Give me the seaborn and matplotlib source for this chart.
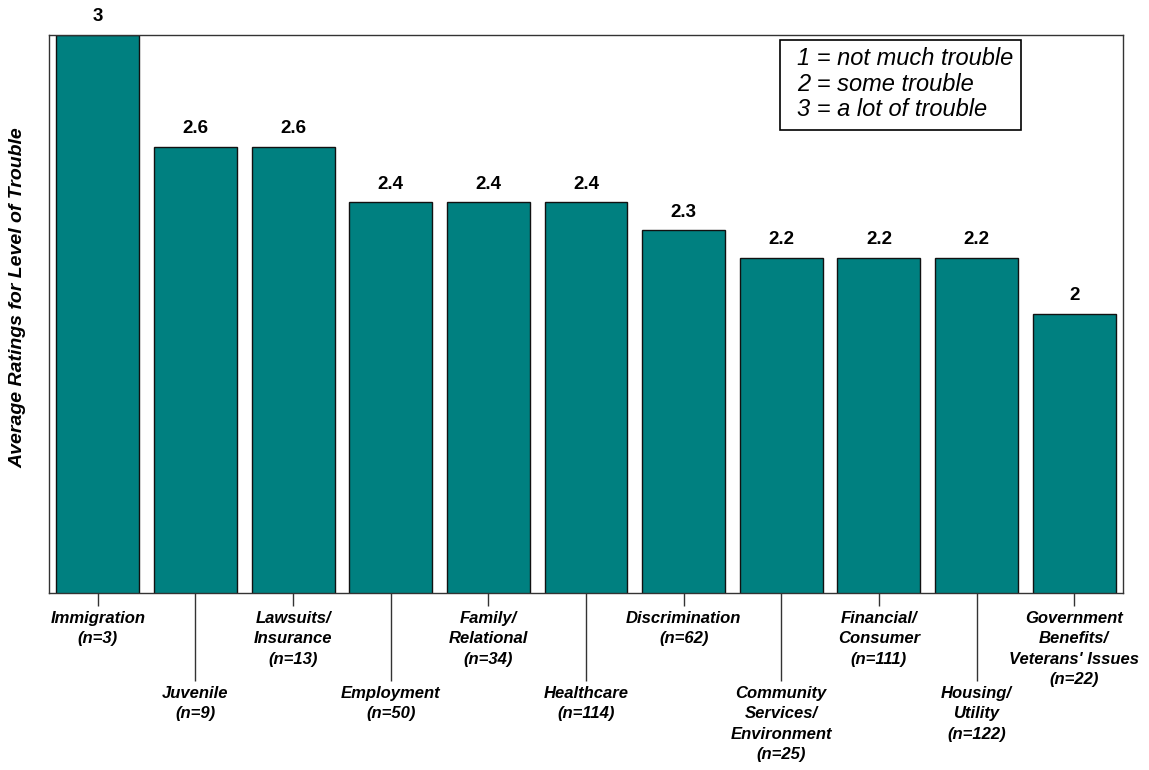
import matplotlib
matplotlib.use("Agg")
import matplotlib.pyplot as plt
from matplotlib.patches import Rectangle
import seaborn as sns
import pandas as pd

categories = ["Immigration\n(n=3)", "Juvenile\n(n=9)", "Lawsuits/\nInsurance\n(n=13)",
              "Employment\n(n=50)", "Family/\nRelational\n(n=34)", "Healthcare\n(n=114)",
              "Discrimination\n(n=62)", "Community\nServices/\nEnvironment\n(n=25)",
              "Financial/\nConsumer\n(n=111)", "Housing/\nUtility\n(n=122)",
              "Government\nBenefits/\nVeterans' Issues\n(n=22)"]
ratings = [3, 2.6, 2.6, 2.4, 2.4, 2.4, 2.3, 2.2, 2.2, 2.2, 2]
legend_lines = ["1 = not much trouble", "2 = some trouble", "3 = a lot of trouble"]
y_label = "Average Ratings for Level of Trouble"

sns.set_style("white")
plt.rcParams['font.family'] = ['Liberation Sans', 'DejaVu Sans']
plt.rcParams['text.color'] = 'black'
plt.rcParams['axes.labelcolor'] = 'black'
plt.rcParams['xtick.color'] = 'black'

df = pd.DataFrame({"cat": categories, "rating": ratings})

fig = plt.figure(figsize=(11.49, 7.70), dpi=100)
ax = fig.add_axes([49/1149, 1-593/770, 1074/1149, 558/770])

sns.barplot(data=df, x="cat", y="rating", color="#008080", saturation=1,
            edgecolor="#111111", linewidth=1, width=0.85, ax=ax)
ax.set_ylim(1, 3)
ax.set_xlim(-0.5, len(categories) - 0.5)
ax.set_yticks([])
ax.set_xlabel("")
ax.set_ylabel(y_label, fontsize=14, fontweight="bold", fontstyle="italic")
ax.yaxis.set_label_coords(-0.0215, 0.53)

for c in ax.containers:
    ax.bar_label(c, labels=[f"{v:g}" for v in ratings], padding=7,
                 fontsize=13.5, fontweight="bold", color="black", clip_on=False)

even = list(range(0, len(categories), 2))
odd = list(range(1, len(categories), 2))
ax.set_xticks(even, labels=[categories[i] for i in even])
ax.set_xticks(odd, labels=[categories[i] for i in odd], minor=True)
ax.tick_params(axis="x", which="major", length=9, width=1, color="#333333",
               direction="out", pad=4, bottom=True)
ax.tick_params(axis="x", which="minor", length=63, width=1, color="#333333",
               direction="out", pad=4, bottom=True)
for lab in ax.get_xticklabels(minor=False) + ax.get_xticklabels(minor=True):
    lab.set_fontsize(12)
    lab.set_fontweight("bold")
    lab.set_fontstyle("italic")
    lab.set_color("black")
    lab.set_linespacing(1.45)

for s in ax.spines.values():
    s.set_visible(True)
    s.set_color("#333333")
    s.set_linewidth(1)

ax.add_patch(Rectangle((0.6806, 0.8297), 0.2244, 0.1613, transform=ax.transAxes,
                       facecolor="white", edgecolor="black", linewidth=1.2, zorder=5))
ax.text(0.6965, 0.912, "\n".join(legend_lines), transform=ax.transAxes,
        ha="left", va="center", fontsize=17, fontstyle="italic", linespacing=1.12,
        color="black", zorder=6)

fig.savefig("out.png", dpi=100)
